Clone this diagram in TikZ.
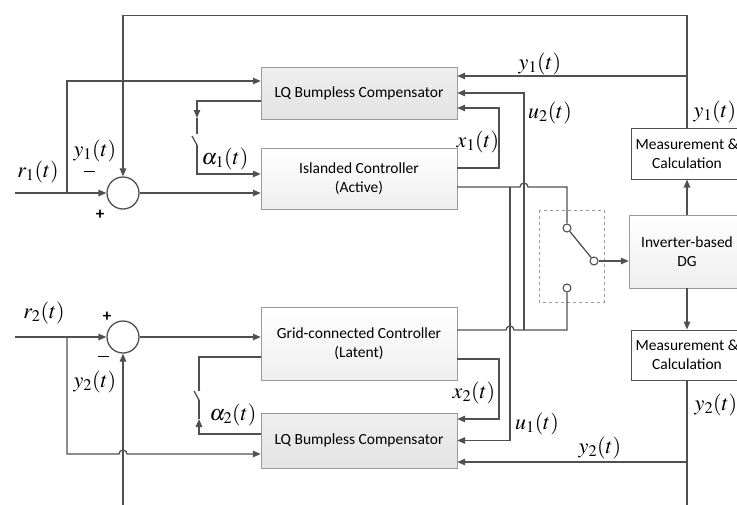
\documentclass[tikz,border=0pt]{standalone}
\usepackage{mathptmx}
\usepackage[no-math]{fontspec}
\setmainfont{Carlito}
\usetikzlibrary{arrows.meta,positioning}

\definecolor{wirec}{HTML}{505050}
\definecolor{edgec}{HTML}{9A9A9A}

\begin{document}
\begin{tikzpicture}[
  x=1pt, y=-1pt,
  font=\fontsize{15.5}{19}\selectfont,
  wire/.style={draw=wirec, line width=1.3pt},
  arr/.style={wire, -{Triangle[length=8pt,width=6.5pt]}},
  lqbox/.style={draw=edgec, top color=gray!13, bottom color=gray!22, minimum width=196pt, align=center, inner sep=0pt},
  ctrlbox/.style={draw=edgec, top color=white, bottom color=gray!13, minimum width=196pt, align=center, inner sep=0pt},
  measbox/.style={draw=wirec, line width=1pt, fill=white, minimum width=112pt, minimum height=51pt, align=center, inner sep=0pt},
  sumc/.style={circle, draw=wirec, line width=1.3pt, fill=white, minimum size=32pt, inner sep=0pt},
  contact/.style={circle, draw=wirec, line width=1.1pt, fill=white, minimum size=8pt, inner sep=0pt},
  lbl/.style={font=\fontsize{22}{22}\selectfont, inner sep=0pt},
  sgn/.style={font=\fontsize{17}{17}\selectfont\bfseries, inner sep=0pt}
]
\useasboundingbox (0,0) rectangle (737,504);

% blocks
\node[lqbox, minimum height=52pt] (lq1) at (359,93) {LQ Bumpless Compensator};
\node[ctrlbox, minimum height=61pt] (isl) at (359,178.5) {Islanded Controller\\(Active)};
\node[ctrlbox, minimum height=73pt] (grid) at (359,343.5) {Grid-connected Controller\\(Latent)};
\node[lqbox, minimum height=55pt] (lq2) at (359,440.5) {LQ Bumpless Compensator};
\node[measbox] (meas1) at (687,153.5) {Measurement \&\\Calculation};
\node[ctrlbox, minimum width=116pt, minimum height=73pt] (dg) at (687,251.5) {Inverter-based\\DG};
\node[measbox, minimum height=50pt] (meas2) at (687,355) {Measurement \&\\Calculation};
\node[sumc] (sum1) at (123,193) {};
\node[sumc] (sum2) at (123,337) {};

% selector switch
\draw[draw=edgec, dashed, line width=1pt] (539,210) rectangle (604,302);
\node[contact] (c1) at (567,228) {};
\node[contact] (c2) at (594,261) {};
\node[contact] (c3) at (567,288) {};
\draw[wire] (c1) -- (c2);

\coordinate (r1in) at (15,193);
\coordinate (r2in) at (15,337);
\coordinate (b1) at (67,193);
\coordinate (b2) at (67,337);
\coordinate (j1) at (687,76);
\coordinate (j2) at (687,462);
\coordinate (ju1) at (510,187);
\coordinate (ju2) at (524,330);

% loop 1
\draw[arr] (r1in) -- (sum1);
\draw[arr] (b1) |- ([yshift=12pt]lq1.west);
\draw[arr] (meas1.north) -- ++(0,-112) -| (sum1.north);
\draw[arr] (sum1) -- (sum1 -| isl.west);
\draw[arr] (j1) -- (j1 -| lq1.east);
\draw[arr] (ju2) |- (lq1.east);
\draw[arr] ([yshift=10.5pt]isl.east) -| (499,108) -- ([yshift=-15pt]lq1.east);
\draw[wire] ([yshift=-8.5pt]isl.east) -- (ju1) -- (520,187)
  arc[start angle=180, end angle=0, radius=4pt] -| (c1);
\draw[arr] (c2) -- (c2 -| dg.west);
\draw[arr] (dg.north) -- (meas1.south);

% alpha_1 switch
\draw[arr] ([yshift=-8pt]lq1.west) -| (197,118);
\draw[wire] (197,118) -- (197,133);
\fill[wirec] (197,133) circle (1.4pt);
\draw[wire] (197,145) -- (192,136);
\draw[arr] (197,145) |- ([yshift=4.5pt]isl.west);

% loop 2
\draw[arr] (r2in) -- (sum2);
\draw[arr] (b2) |- (119,454) arc[start angle=180, end angle=0, radius=4pt]
  -- ([yshift=-13.5pt]lq2.west);
\draw[arr] (123,512) -- (sum2.south);
\draw[arr] (sum2) -- (sum2 -| grid.west);
\draw[wire] ([yshift=13.5pt]grid.east) -- (506,330)
  arc[start angle=180, end angle=0, radius=4pt] -- (ju2) -| (c3);
\draw[arr] (ju1) |- (lq2.east);
\draw[arr] ([yshift=-15.5pt]grid.east) -| (499,419) -- ([yshift=21.5pt]lq2.east);
\draw[arr] (dg.south) -- (meas2.north);
\draw[wire] (meas2.south) -- (687,512);
\draw[arr] (j2) -- (j2 -| lq2.east);

% alpha_2 switch
\draw[arr] ([yshift=6.5pt]lq2.west) -| (199,419);
\draw[wire] (199,419) -- (199,400);
\draw[wire] (199,400) -- (194,391);
\fill[wirec] (199,390) circle (1.4pt);
\draw[wire] (199,390) |- ([yshift=-13.5pt]grid.west);

% labels
\node[lbl] (lr1) at (38,172) {$r_1(t)$};
\node[lbl] (ly1a) at (95,151) {$y_1(t)$};
\node[sgn] (m1) at (89,171) {\rule{11pt}{0.8pt}};
\node[sgn] (p1) at (100,215) {+};
\node[lbl] (la1) at (225,159) {$\alpha_1(t)$};
\node[lbl] (ly1b) at (540,64) {$y_1(t)$};
\node[lbl] (lu2) at (550,113) {$u_2(t)$};
\node[lbl] (lx1) at (478,142) {$x_1(t)$};
\node[lbl] (ly1c) at (715,112) {$y_1(t)$};
\node[lbl] (lr2) at (44,313) {$r_2(t)$};
\node[sgn] (p2) at (107,317) {+};
\node[sgn] (m2) at (103,356) {\rule{11pt}{0.8pt}};
\node[lbl] (ly2a) at (95,382) {$y_2(t)$};
\node[lbl] (la2) at (233,415) {$\alpha_2(t)$};
\node[lbl] (lx2) at (474,393) {$x_2(t)$};
\node[lbl] (lu1) at (537,424) {$u_1(t)$};
\node[lbl] (ly2b) at (600,448) {$y_2(t)$};
\node[lbl] (ly2c) at (716,405) {$y_2(t)$};
\end{tikzpicture}
\end{document}
